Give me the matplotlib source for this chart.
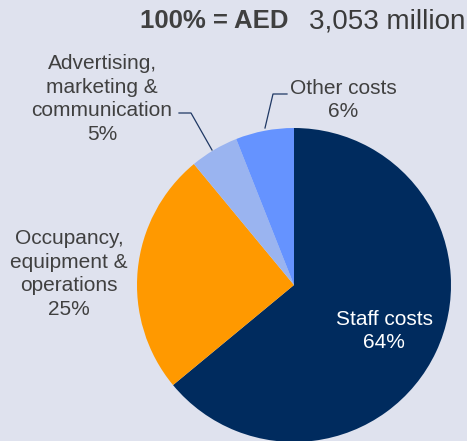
import matplotlib.pyplot as plt

plt.rcParams['font.family'] = ['Liberation Sans', 'DejaVu Sans']

categories = ['Staff costs', 'Occupancy,\nequipment &\noperations',
              'Advertising,\nmarketing &\ncommunication', 'Other costs']
shares = [64, 25, 5, 6]
colors = ['#002b5e', '#ff9900', '#9ab4f0', '#6593ff']
bg = '#dfe2ee'
txt = '#404040'

W, H = 467, 441
fig = plt.figure(figsize=(W / 100, H / 100), dpi=100, facecolor=bg)
ax = fig.add_axes([0, 0, 1, 1])
ax.set_facecolor(bg)

# pie in pixel units, y counted from the bottom
ax.pie(shares, colors=colors, startangle=90, counterclock=False,
       center=(294, H - 285), radius=157, frame=True,
       wedgeprops=dict(linewidth=0))
ax.set_xlim(0, W)
ax.set_ylim(0, H)
ax.set_aspect('equal')
ax.axis('off')

def py(y):
    return H - y

# labels
ls = 1.32
ax.text(384, py(331), f'{categories[0]}\n{shares[0]}%', color='white',
        fontsize=15, ha='center', va='center', linespacing=ls)
ax.text(69, py(274), f'{categories[1]}\n{shares[1]}%', color=txt,
        fontsize=15, ha='center', va='center', linespacing=ls)
ax.text(102, py(99), f'{categories[2]}\n{shares[2]}%', color=txt,
        fontsize=15, ha='center', va='center', linespacing=ls)
ax.text(343, py(100), f'{categories[3]}\n{shares[3]}%', color=txt,
        fontsize=15, ha='center', va='center', linespacing=ls)

# leader lines
ax.plot([179, 191, 212], [py(113), py(113), py(150)], color='#1f3864', lw=0.9)
ax.plot([287, 273, 265], [py(94), py(94), py(128)], color='#1f3864', lw=0.9)

# header
ax.text(465, py(21), '3,053 million', color='#3a3a3a', fontsize=20,
        ha='right', va='center')
ax.text(289, py(21), '100% = AED', color=txt, fontsize=18.5,
        fontweight='bold', ha='right', va='center')

fig.savefig('out.png', dpi=100, facecolor=bg)
